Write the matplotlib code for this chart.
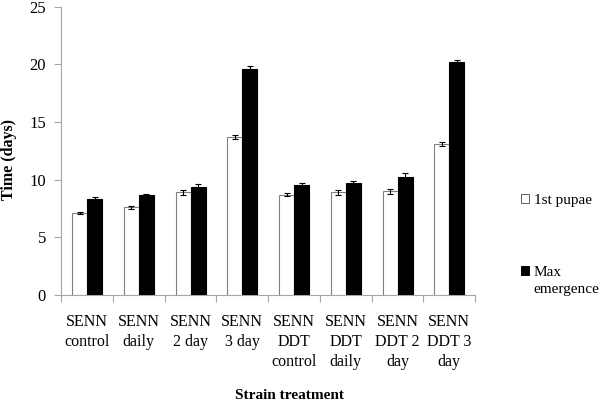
import matplotlib.pyplot as plt
import numpy as np
from matplotlib.patches import Patch

CATEGORIES = ["SENN\ncontrol", "SENN\ndaily", "SENN\n2 day", "SENN\n3 day",
              "SENN\nDDT\ncontrol", "SENN\nDDT\ndaily", "SENN\nDDT 2\nday", "SENN\nDDT 3\nday"]
PUPAE = [7.1, 7.6, 8.9, 13.7, 8.7, 8.9, 9.0, 13.1]
PUPAE_ERR = [0.1, 0.15, 0.2, 0.2, 0.15, 0.2, 0.2, 0.15]
MAX_EM = [8.3, 8.7, 9.4, 19.6, 9.5, 9.7, 10.2, 20.2]
MAX_EM_ERR = [0.2, 0.1, 0.25, 0.3, 0.2, 0.2, 0.4, 0.2]
Y_TICKS = [0, 5, 10, 15, 20, 25]

plt.rcParams["font.family"] = ["Liberation Serif", "DejaVu Serif"]
GREY = "#a6a6a6"


def main():
    fig = plt.figure(figsize=(6.0, 4.04), dpi=100)
    ax = fig.add_axes([0.102, 0.27, 0.69, 0.713])
    x = np.arange(len(CATEGORIES))
    w = 0.29

    ax.bar(x - w / 2, PUPAE, width=w, color="white", edgecolor="#808080",
           linewidth=0.8, zorder=3)
    ax.bar(x + w / 2, MAX_EM, width=w, color="black", edgecolor="black",
           linewidth=0.8, zorder=3)
    ax.errorbar(x - w / 2, PUPAE, yerr=PUPAE_ERR, fmt="none", ecolor="black",
                elinewidth=0.8, capsize=2, capthick=0.8, zorder=4)
    ax.errorbar(x + w / 2, MAX_EM, yerr=MAX_EM_ERR, fmt="none", ecolor="black",
                elinewidth=0.8, capsize=2, capthick=0.8, zorder=4)

    ax.set_xlim(-0.5, len(CATEGORIES) - 0.5)
    ax.set_ylim(0, 25)
    ax.set_yticks(Y_TICKS)
    ax.set_xticks(x)
    ax.set_xticklabels(CATEGORIES, fontsize=11.5, linespacing=1.3, va="top")
    ax.set_xticks(np.arange(len(CATEGORIES) + 1) - 0.5, minor=True)
    ax.tick_params(axis="x", which="major", length=0, pad=14)
    ax.tick_params(axis="x", which="minor", length=5, color=GREY, width=0.8)
    ax.tick_params(axis="y", length=5, color=GREY, width=0.8, labelsize=12,
                   pad=6)

    for s in ("top", "right"):
        ax.spines[s].set_visible(False)
    for s in ("left", "bottom"):
        ax.spines[s].set_color(GREY)
        ax.spines[s].set_linewidth(0.8)

    ax.set_ylabel("Time (days)", fontsize=11.5, fontweight="bold")
    ax.yaxis.set_label_coords(-0.106, 0.47)
    fig.text(0.482, 0.022, "Strain treatment", fontsize=11, fontweight="bold",
             ha="center", va="center")

    handles = [Patch(facecolor="white", edgecolor="#606060", linewidth=0.7),
               Patch(facecolor="black", edgecolor="black", linewidth=0.7)]
    leg = fig.legend(handles, ["1st pupae", "Max"], loc="upper left",
                     bbox_to_anchor=(0.868, 0.521), frameon=False, fontsize=11,
                     handlelength=0.55, handleheight=0.55, handletextpad=0.3,
                     labelspacing=3.9, borderpad=0, borderaxespad=0)
    # second line of the "Max emergence" entry, kept under "Max"
    fig.canvas.draw()
    bb = leg.get_texts()[1].get_window_extent()
    fig.text(bb.x0, bb.y0 - 4, "emergence", fontsize=11, ha="left", va="top",
             transform=None)

    fig.savefig("out.png", dpi=100)


if __name__ == "__main__":
    main()
